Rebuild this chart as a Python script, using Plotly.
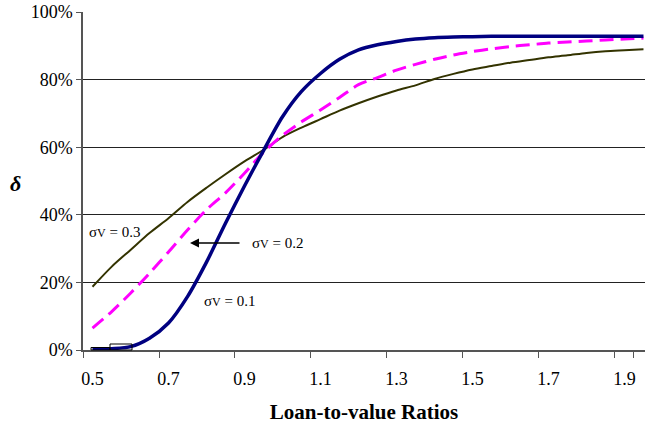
import plotly.graph_objects as go

ltv = ["0.5", "0.55", "0.6", "0.65", "0.7", "0.75", "0.8", "0.85", "0.9", "0.95",
       "1", "1.05", "1.1", "1.15", "1.2", "1.25", "1.3", "1.35", "1.4", "1.45",
       "1.5", "1.55", "1.6", "1.65", "1.7", "1.75", "1.8", "1.85", "1.9", "1.95"]

sigma_01 = [0.2, 0.4, 1.0, 3.5, 8.0, 15.8, 26.0, 37.5, 48.5, 59.0,
            69.0, 76.5, 81.8, 86.0, 88.8, 90.3, 91.3, 92.0, 92.4, 92.6,
            92.7, 92.8, 92.8, 92.8, 92.8, 92.8, 92.8, 92.8, 92.8, 92.8]
sigma_02 = [6.5, 11.3, 16.8, 22.7, 29.0, 35.5, 41.5, 46.5, 52.3, 58.5,
            63.5, 67.5, 71.0, 74.7, 78.5, 80.6, 82.8, 84.5, 86.0, 87.3,
            88.3, 89.1, 89.8, 90.3, 90.8, 91.1, 91.4, 91.7, 92.0, 92.3]
sigma_03 = [18.7, 24.6, 29.6, 34.6, 39.0, 43.8, 48.0, 52.0, 55.8, 59.2,
            63.0, 65.8, 68.3, 70.8, 73.0, 75.0, 76.8, 78.3, 80.2, 81.7,
            83.0, 84.0, 85.0, 85.8, 86.6, 87.2, 87.9, 88.4, 88.7, 89.0]

x_ticks = ["0.5", "0.7", "0.9", "1.1", "1.3", "1.5", "1.7", "1.9"]
y_ticks = [0, 0.2, 0.4, 0.6, 0.8, 1.0]

serif = "Liberation Serif, Times New Roman, serif"

fig = go.Figure()
fig.add_trace(go.Scatter(x=ltv, y=[v / 100 for v in sigma_03], mode="lines",
                         line=dict(color="#333300", width=2, shape="spline", smoothing=0.8),
                         showlegend=False))
fig.add_trace(go.Scatter(x=ltv, y=[v / 100 for v in sigma_02], mode="lines",
                         line=dict(color="#FF00FF", width=3, dash="14px,7px", shape="spline",
                                   smoothing=0.8),
                         showlegend=False))
fig.add_trace(go.Scatter(x=ltv, y=[v / 100 for v in sigma_01], mode="lines",
                         line=dict(color="#000080", width=3.5, shape="spline", smoothing=0.8),
                         showlegend=False))

L, T, W, H = 83, 12, 562, 338


def px(xp):
    return (xp - L) / W


def py(yp):
    return (T + H - yp) / H


sv = "σ<span style='font-size:12px'>V</span>"
anns = [
    dict(x=px(87), y=py(232), text=sv + " = 0.3", xanchor="left"),
    dict(x=px(250), y=py(243), text=sv + " = 0.2", xanchor="left"),
    dict(x=px(202), y=py(301), text=sv + " = 0.1", xanchor="left"),
]
for a in anns:
    fig.add_annotation(xref="paper", yref="paper", showarrow=False, yanchor="middle",
                       font=dict(family=serif, size=15, color="black"), **a)

fig.add_annotation(xref="paper", yref="paper", x=px(190), y=py(243),
                   ax=51, ay=0, axref="pixel", ayref="pixel",
                   text="", showarrow=True, arrowhead=2, arrowsize=1.2,
                   arrowwidth=1.5, arrowcolor="black")

fig.add_annotation(xref="paper", yref="paper", x=px(15), y=py(183), text="<b><i>δ</i></b>",
                   showarrow=False, xanchor="center", yanchor="middle",
                   font=dict(family=serif, size=22, color="black"))

fig.add_shape(type="rect", xref="paper", yref="paper", x0=px(91), x1=px(110),
              y0=py(350), y1=py(347.5), line=dict(color="black", width=1))
fig.add_shape(type="rect", xref="paper", yref="paper", x0=px(110), x1=px(132),
              y0=py(350), y1=py(344), line=dict(color="black", width=1))

fig.update_layout(
    width=645, height=425,
    margin=dict(l=L, r=645 - L - W, t=T, b=425 - T - H),
    plot_bgcolor="white", paper_bgcolor="white",
    font=dict(family=serif, size=18, color="black"),
    xaxis=dict(type="category", range=[-0.5, 29.08], tickvals=x_ticks, tickson="boundaries",
               tickangle=0, ticks="outside", ticklen=6, tickcolor="#555", showgrid=False,
               ticklabelstandoff=12,
               showline=True, linecolor="#555", linewidth=1.5, zeroline=False,
               title=dict(text="<b>Loan-to-value Ratios</b>", font=dict(family=serif, size=21),
                          standoff=16)),
    yaxis=dict(range=[0, 1], tickvals=y_ticks, tickformat=".0%", ticks="outside",
               ticklen=5, tickcolor="#555", showgrid=True, gridcolor="#222", gridwidth=1,
               showline=True, linecolor="#555", linewidth=1.5, zeroline=False),
)
fig.write_html("out.html")
